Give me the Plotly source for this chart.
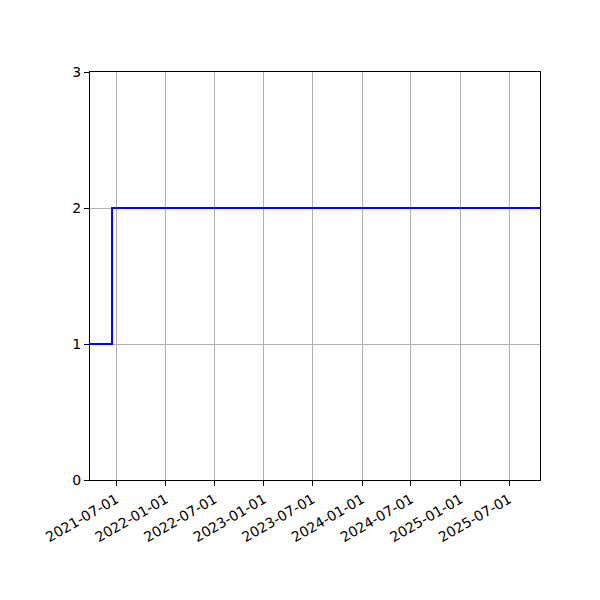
import plotly.graph_objects as go

# step data
dates = ["2021-03-25", "2021-06-15", "2025-10-24"]
counts = [1, 2, 2]

tick_dates = ["2021-07-01", "2022-01-01", "2022-07-01", "2023-01-01",
              "2023-07-01", "2024-01-01", "2024-07-01", "2025-01-01",
              "2025-07-01"]
y_ticks = [0, 1, 2, 3]

fig = go.Figure()
fig.add_trace(go.Scatter(x=dates, y=counts, mode="lines",
                         line=dict(color="blue", width=2, shape="hv"),
                         showlegend=False))

axis_style = dict(showline=True, linecolor="black", linewidth=1, mirror=True,
                  ticks="outside", ticklen=5, tickcolor="black",
                  showgrid=True, gridcolor="#b0b0b0", gridwidth=1,
                  zeroline=False, tickfont=dict(family="DejaVu Sans", size=14, color="black"))

# page body adds ~8px offset, so margins are shifted
fig.update_layout(
    width=600, height=600,
    margin=dict(l=82, r=68, t=64, b=128),
    plot_bgcolor="white", paper_bgcolor="white",
    xaxis=dict(range=[dates[0], dates[-1]], tickvals=tick_dates, ticktext=tick_dates,
               tickangle=-30, **axis_style),
    yaxis=dict(range=[0, 3], tickvals=y_ticks, **axis_style),
)

fig.write_html("out.html")
